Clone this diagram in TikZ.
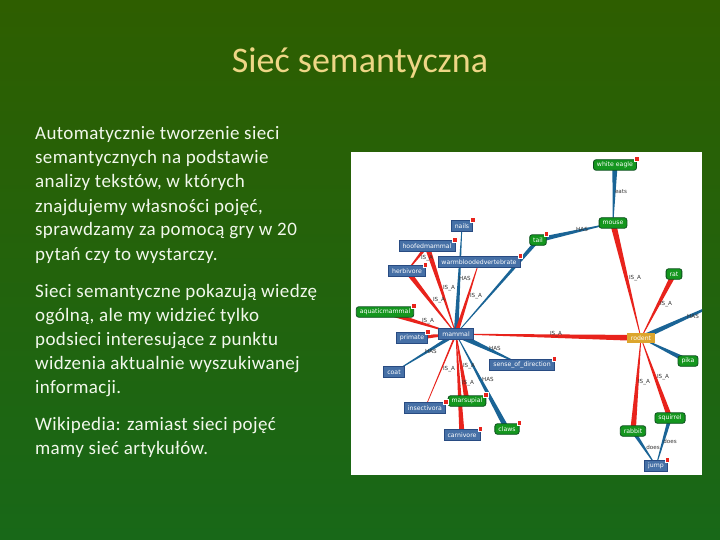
\documentclass[tikz,border=0pt]{standalone}
\usepackage{fontspec}
\setmainfont{Carlito}
\newfontfamily\nfont{DejaVu Sans}
\usetikzlibrary{calc}
\definecolor{bgtop}{RGB}{46,94,0}
\definecolor{bgbot}{RGB}{24,104,24}
\definecolor{titlec}{RGB}{238,214,134}
\definecolor{textc}{RGB}{242,248,236}
\definecolor{nblue}{RGB}{70,112,166}
\definecolor{nbluedk}{RGB}{40,75,130}
\definecolor{ngreen}{RGB}{20,150,30}
\definecolor{ngreendk}{RGB}{12,80,30}
\definecolor{ngold}{RGB}{220,165,45}
\definecolor{ered}{RGB}{232,35,28}
\definecolor{eblue}{RGB}{26,100,150}
\pgfdeclarelayer{bg}
\pgfdeclarelayer{edges}
\pgfsetlayers{bg,edges,main}
\tikzset{
 nbase/.style={font=\nfont\fontsize{6.2}{7}\selectfont, text=white, inner xsep=3.5pt, inner ysep=1pt, minimum height=10.5pt, line width=0.8pt},
 bnode/.style={nbase, draw=nbluedk, fill=nblue},
 gnode/.style={nbase, draw=ngreendk, fill=ngreen, rounded corners=2.5pt},
 onode/.style={nbase, fill=ngold},
 badge/.style={fill=ered, draw=white, line width=0.3pt, minimum size=4.5pt, inner sep=0pt},
 elbl/.style={font=\nfont\fontsize{5.6}{6}\selectfont, text=black!80, inner sep=0.5pt},
 body/.style={font=\fontsize{19}{24}\selectfont\addfontfeature{LetterSpace=2}, text=textc, anchor=base west, inner sep=0pt},
}
\newcommand{\wedgeE}[5]{\fill[#5] ($(#1)!#3!90:(#2)$) -- ($(#2)!#4!-90:(#1)$) -- ($(#2)!#4!90:(#1)$) -- ($(#1)!#3!-90:(#2)$) -- cycle;}
\begin{document}
\begin{tikzpicture}[x=1pt,y=-1pt]
\begin{pgfonlayer}{bg}
\shade[top color=bgtop, bottom color=bgbot] (0,0) rectangle (720,540);
\fill[white] (351,152) rectangle (702,475);
\end{pgfonlayer}
\useasboundingbox (0,0) rectangle (720,540);

\node[font=\fontsize{36}{40}\selectfont, text=titlec, anchor=base, inner sep=0pt] (title) at (360,73) {Sieć semantyczna};

\node[body] (l1) at (35,140) {Automatycznie tworzenie sieci};
\node[body] (l2) at (35,164) {semantycznych na podstawie};
\node[body] (l3) at (35,188) {analizy tekstów, w których};
\node[body] (l4) at (35,212) {znajdujemy własności pojęć,};
\node[body] (l5) at (35,236) {sprawdzamy za pomocą gry w 20};
\node[body] (l6) at (35,260) {pytań czy to wystarczy.};
\node[body] (l7) at (35,297) {Sieci semantyczne pokazują wiedzę};
\node[body] (l8) at (35,321) {ogólną, ale my widzieć tylko};
\node[body] (l9) at (35,345) {podsieci interesujące z punktu};
\node[body] (l10) at (35,369) {widzenia aktualnie wyszukiwanej};
\node[body] (l11) at (35,393) {informacji.};
\node[body] (l12) at (35,430) {Wikipedia: zamiast sieci pojęć};
\node[body] (l13) at (35,454) {mamy sieć artykułów.};

\node[bnode] (nails) at (462,226) {nails};
\node[bnode] (hoofed) at (427,246) {hoofedmammal};
\node[bnode] (wbv) at (479,262) {warmbloodedvertebrate};
\node[bnode] (herb) at (407,271) {herbivore};
\node[gnode] (aqua) at (385,312) {aquaticmammal};
\node[bnode] (mammal) at (456,334) {mammal};
\node[bnode] (primate) at (412,338) {primate};
\node[bnode] (coat) at (394,372) {coat};
\node[bnode] (sod) at (522,365) {sense\_of\_direction};
\node[bnode] (insect) at (425,408) {insectivora};
\node[gnode] (marsup) at (467,401) {marsupial};
\node[bnode] (carn) at (462,435) {carnivore};
\node[gnode] (claws) at (507,429) {claws};
\node[gnode] (eagle) at (615,165) {white eagle};
\node[gnode] (mouse) at (613,223) {mouse};
\node[gnode] (tail) at (538,240) {tail};
\node[gnode] (rat) at (674,274) {rat};
\node[onode] (rodent) at (641,338) {rodent};
\node[gnode] (pika) at (688,361) {pika};
\node[gnode] (squirrel) at (670,418) {squirrel};
\node[gnode] (rabbit) at (633,431) {rabbit};
\node[bnode] (jump) at (656,466) {jump};
\coordinate (offr) at (712,306);

\foreach \n in {nails,hoofed,wbv,herb,aqua,primate,sod,insect,marsup,carn,claws,eagle,tail,jump}
  \node[badge] at ([xshift=-0.5pt,yshift=0.5pt]\n.north east) {};

\begin{pgfonlayer}{edges}
\begin{scope}
\clip (351,152) rectangle (702,475);
\wedgeE{nails}{mammal}{0.3pt}{2.3pt}{eblue}
\wedgeE{hoofed}{mammal}{2.6pt}{0.3pt}{ered}
\wedgeE{herb}{mammal}{2.6pt}{0.3pt}{ered}
\wedgeE{herb}{hoofed}{0.4pt}{1.8pt}{ered}
\wedgeE{wbv}{mammal}{0.3pt}{2pt}{ered}
\wedgeE{tail}{mammal}{2pt}{0.3pt}{eblue}
\wedgeE{tail}{mouse}{2.5pt}{0.4pt}{eblue}
\wedgeE{eagle}{mouse}{2.6pt}{0.3pt}{eblue}
\wedgeE{mouse}{rodent}{3pt}{0.3pt}{ered}
\wedgeE{rat}{rodent}{2.6pt}{0.3pt}{ered}
\wedgeE{rodent}{offr}{2.6pt}{1pt}{eblue}
\wedgeE{pika}{rodent}{2.6pt}{0.3pt}{eblue}
\wedgeE{rabbit}{rodent}{2.8pt}{0.3pt}{ered}
\wedgeE{squirrel}{rodent}{2.6pt}{0.3pt}{ered}
\wedgeE{rabbit}{jump}{2pt}{0.3pt}{eblue}
\wedgeE{squirrel}{jump}{2pt}{0.3pt}{eblue}
\wedgeE{rodent}{mammal}{3pt}{0.3pt}{ered}
\wedgeE{aqua}{mammal}{2.6pt}{0.3pt}{ered}
\wedgeE{primate}{mammal}{2.5pt}{0.6pt}{ered}
\wedgeE{coat}{mammal}{0.3pt}{2pt}{eblue}
\wedgeE{sod}{mammal}{0.3pt}{3pt}{eblue}
\wedgeE{insect}{mammal}{0.3pt}{0.9pt}{ered}
\wedgeE{marsup}{mammal}{2.6pt}{0.3pt}{ered}
\wedgeE{carn}{mammal}{2.6pt}{0.3pt}{ered}
\wedgeE{claws}{mammal}{2.6pt}{0.3pt}{eblue}
\end{scope}
\end{pgfonlayer}

\node[elbl] at (465,278) {HAS};
\node[elbl] at (449,288) {IS\_A};
\node[elbl] at (439,300) {IS\_A};
\node[elbl] at (476,296) {IS\_A};
\node[elbl] at (427,258) {IS\_A};
\node[elbl] at (428,321) {IS\_A};
\node[elbl] at (431,351) {HAS};
\node[elbl] at (449,369) {IS\_A};
\node[elbl] at (469,366) {IS\_A};
\node[elbl] at (495,348) {HAS};
\node[elbl] at (488,379) {HAS};
\node[elbl] at (468,383) {IS\_A};
\node[elbl] at (621,192) {eats};
\node[elbl] at (582,229) {HAS};
\node[elbl] at (635,278) {IS\_A};
\node[elbl] at (666,304) {IS\_A};
\node[elbl] at (556,334) {IS\_A};
\node[elbl] at (693,316) {HAS};
\node[elbl] at (644,382) {IS\_A};
\node[elbl] at (663,377) {IS\_A};
\node[elbl] at (653,447) {does};
\node[elbl] at (670,441) {does};
\end{tikzpicture}
\end{document}
